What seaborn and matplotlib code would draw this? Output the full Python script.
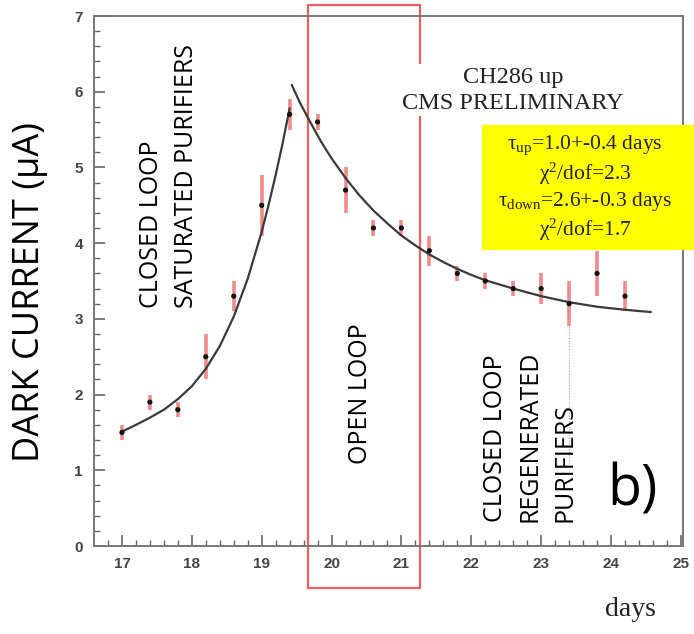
import numpy as np
import pandas as pd
import matplotlib
matplotlib.use("Agg")
import matplotlib.pyplot as plt
from matplotlib.patches import Rectangle
import seaborn as sns

# ---- data ----
days = [17.0, 17.4, 17.8, 18.2, 18.6, 19.0, 19.4, 19.8, 20.2, 20.6,
        21.0, 21.4, 21.8, 22.2, 22.6, 23.0, 23.4, 23.8, 24.2]
current = [1.5, 1.9, 1.8, 2.5, 3.3, 4.5, 5.7, 5.6, 4.7, 4.2,
           4.2, 3.9, 3.6, 3.5, 3.4, 3.4, 3.2, 3.6, 3.3]
errors = [0.1, 0.1, 0.1, 0.3, 0.2, 0.4, 0.2, 0.1, 0.3, 0.1,
          0.1, 0.2, 0.1, 0.1, 0.1, 0.2, 0.3, 0.3, 0.2]

fit_up_x = [17.0, 17.2, 17.4, 17.6, 17.8, 18.0, 18.2, 18.4, 18.6, 18.8,
            19.0, 19.1, 19.2, 19.3, 19.4]
fit_up_y = [1.51, 1.60, 1.695, 1.80, 1.94, 2.11, 2.34, 2.64, 3.03, 3.53,
            4.15, 4.51, 4.90, 5.32, 5.78]
fit_down_x = [19.43, 19.55, 19.7, 19.85, 20.0, 20.2, 20.4, 20.6, 20.8,
              21.0, 21.2, 21.4, 21.6, 21.8, 22.0, 22.2, 22.6, 23.0,
              23.4, 23.8, 24.2, 24.57]
fit_down_y = [6.09, 5.85, 5.59, 5.34, 5.12, 4.86, 4.63, 4.43, 4.26,
              4.10, 3.97, 3.85, 3.75, 3.66, 3.58, 3.51, 3.40, 3.30,
              3.22, 3.16, 3.12, 3.09]

x_ticks = [17, 18, 19, 20, 21, 22, 23, 24, 25]
y_ticks = [0, 1, 2, 3, 4, 5, 6, 7]

df = pd.DataFrame({"days": days, "current": current, "err": errors})
up = pd.DataFrame({"x": fit_up_x, "y": fit_up_y})
down = pd.DataFrame({"x": fit_down_x, "y": fit_down_y})

sns.set_theme(style="ticks")
plt.rcParams['font.family'] = ['Open Sans', 'DejaVu Sans']
plt.rcParams['mathtext.fontset'] = 'custom'
plt.rcParams['mathtext.rm'] = 'Liberation Serif'
plt.rcParams['mathtext.it'] = 'Liberation Serif:italic'

fig = plt.figure(figsize=(6.94, 6.34), dpi=100)
ax = fig.add_axes([94/694, 1-546/634, (683-94)/694, (546-16)/634])

# error bars
ax.vlines(df["days"], df["current"]-df["err"], df["current"]+df["err"],
          color="#f28a8a", lw=2.6, zorder=2)
# fit curves
sns.lineplot(data=up, x="x", y="y", ax=ax, color="#3a3a3a", lw=1.6,
             sort=False, zorder=3)
sns.lineplot(data=down, x="x", y="y", ax=ax, color="#3a3a3a", lw=1.6,
             sort=False, zorder=3)
# points
sns.scatterplot(data=df, x="days", y="current", ax=ax, color="#111111",
                s=14, edgecolor="none", zorder=4)

# faint dotted blue line under the 23.4 point
ax.plot([23.4, 23.4], [3.2, 1.1], color="#7fa4d8", lw=0.8, ls=(0, (1, 1.5)),
        zorder=1)

ax.set_xlim(16.6, 25.03)
ax.set_ylim(0, 7)
ax.set_xticks(x_ticks)
ax.set_yticks(y_ticks)
ax.set_xticks(np.arange(16.8, 25.01, 0.2), minor=True)
ax.set_yticks(np.arange(0, 7.01, 0.2), minor=True)
ax.tick_params(which="major", direction="in", length=8, width=1.2,
               color="#666666", labelcolor="#444444", labelsize=11, pad=8)
ax.tick_params(which="minor", direction="in", length=4, width=1.0,
               color="#666666")
for lab in ax.get_xticklabels() + ax.get_yticklabels():
    lab.set_fontfamily("Liberation Sans")
    lab.set_fontweight("bold")
for s in ax.spines.values():
    s.set_visible(True)
    s.set_color("#777777")
    s.set_linewidth(1.4)
ax.set_xlabel("")
ax.set_ylabel("")

# red rectangle (open loop period)
rect = Rectangle((19.66, -0.55), 21.26-19.66, 7.7, fill=False,
                 edgecolor="#f06060", lw=1.6, clip_on=False, zorder=1,
                 transform=ax.transData)
ax.add_patch(rect)

# texts
fig.text(30/694, 1-292/634, "DARK CURRENT (\u03bcA)", rotation=90,
         ha="center", va="center", fontsize=26, color="black")
ax.text(17.43, 3.15, "CLOSED LOOP", rotation=90, ha="center",
        va="bottom", fontsize=18, color="black", zorder=5)
ax.text(17.93, 3.15, "SATURATED PURIFIERS", rotation=90, ha="center",
        va="bottom", fontsize=18, color="black", zorder=5)
ax.text(20.42, 1.08, "OPEN LOOP", rotation=90, ha="center", va="bottom",
        fontsize=18, color="black", zorder=5)
ax.text(22.34, 0.32, "CLOSED LOOP", rotation=90, ha="center", va="bottom",
        fontsize=18, color="black", zorder=5)
ax.text(22.84, 0.32, "REGENERATED", rotation=90, ha="center", va="bottom",
        fontsize=18, color="black", zorder=5)
ax.text(23.34, 0.32, "PURIFIERS", rotation=90, ha="center", va="bottom",
        fontsize=18, color="black", zorder=5)
ax.text(24.3, 0.72, "b)", ha="center", va="center", fontsize=40,
        color="black", zorder=5)

ax.text(22.6, 6.02, "CH286 up\nCMS PRELIMINARY", ha="center", va="center",
        fontsize=17.5, family="Liberation Serif", color="#222222",
        linespacing=1.3, zorder=6,
        bbox=dict(facecolor="white", edgecolor="none", pad=2))

fig.text(585/694, 1-188/634,
         "\u03c4$_{\\mathregular{up}}$=1.0+-0.4 days\n"
         "\u03c7$^{\\mathregular{2}}$/dof=2.3\n"
         "\u03c4$_{\\mathregular{down}}$=2.6+-0.3 days\n"
         "\u03c7$^{\\mathregular{2}}$/dof=1.7",
         ha="center", va="center", fontsize=15.5, family="Liberation Serif",
         color="#222222", linespacing=1.2, zorder=7)
fig.patches.append(Rectangle((482/694, 1-250/634), (694-482)/694, 125/634,
                             transform=fig.transFigure, facecolor="#ffff00",
                             edgecolor="none", zorder=6))

fig.text(630/694, 1-610/634, "days", ha="center", va="center", fontsize=20,
         family="Liberation Serif", color="#222222")

fig.savefig("out.png", dpi=100)
